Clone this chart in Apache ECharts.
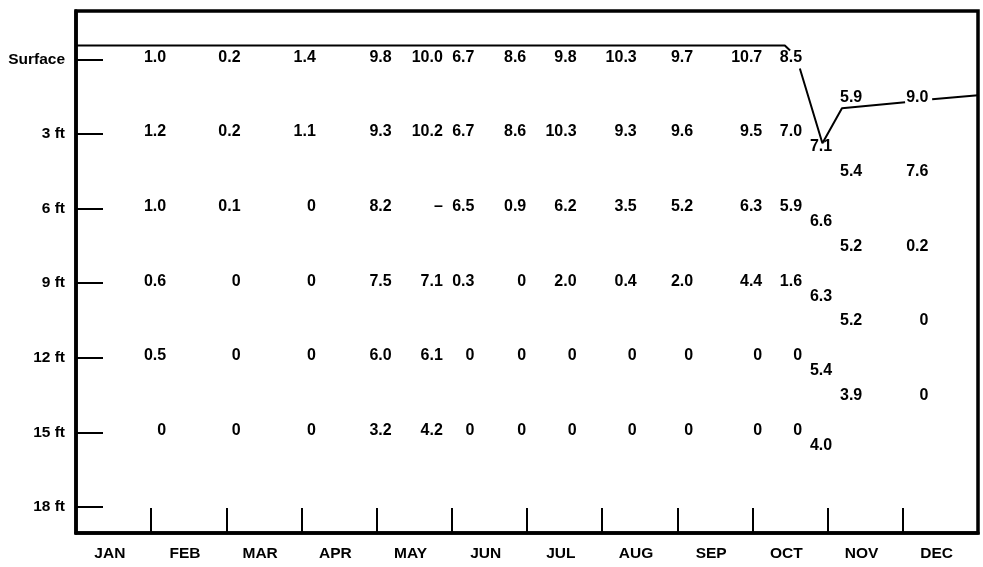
<!DOCTYPE html>
<html>
<head>
<meta charset="utf-8">
<script src="https://cdn.jsdelivr.net/npm/echarts@6/dist/echarts.min.js"></script>
<style>
html,body{margin:0;padding:0;background:#fff;}
#main{width:983px;height:567px;}
</style>
</head>
<body>
<div id="main"></div>
<script>
var monthNames = ['JAN','FEB','MAR','APR','MAY','JUN','JUL','AUG','SEP','OCT','NOV','DEC'];
var depthTicks = [0, 3, 6, 9, 12, 15, 18];
var depthNames = ['Surface','3 ft','6 ft','9 ft','12 ft','15 ft','18 ft'];

// sampling positions (months from 1 Jan), main run of samples
var sampleMonth = [1.2, 2.19, 3.19, 4.2, 4.88, 5.3, 5.99, 6.66, 7.46, 8.21, 9.13, 9.66];
var rowDepth = [0, 3, 6, 9, 12, 15];
var surfaceVals = ['1.0','0.2','1.4','9.8','10.0','6.7','8.6','9.8','10.3','9.7','10.7','8.5'];
var ft3Vals     = ['1.2','0.2','1.1','9.3','10.2','6.7','8.6','10.3','9.3','9.6','9.5','7.0'];
var ft6Vals     = ['1.0','0.1','0','8.2','\u2013','6.5','0.9','6.2','3.5','5.2','6.3','5.9'];
var ft9Vals     = ['0.6','0','0','7.5','7.1','0.3','0','2.0','0.4','2.0','4.4','1.6'];
var ft12Vals    = ['0.5','0','0','6.0','6.1','0','0','0','0','0','0','0'];
var ft15Vals    = ['0','0','0','3.2','4.2','0','0','0','0','0','0','0'];

// late season samples, depths shifted with the water level
var lateMonth = [10.06, 10.46, 11.34];
var lateDepth = [
    [3.6, 6.6, 9.6, 12.6, 15.6],
    [1.6, 4.6, 7.6, 10.6, 13.6],
    [1.6, 4.6, 7.6, 10.6, 13.6]
];
var lateVals = [
    ['7.1','6.6','6.3','5.4','4.0'],
    ['5.9','5.4','5.2','5.2','3.9'],
    ['9.0','7.6','0.2','0','0']
];

// surface level line (null = break)
var levelMonth = [0, 9.43, 9.5, null, 9.63, 9.93, 10.19, 11.03, null, 11.39, 12];
var levelDepth = [-0.56, -0.56, -0.36, null, 0.36, 3.37, 1.96, 1.72, null, 1.6, 1.44];

var rows = [surfaceVals, ft3Vals, ft6Vals, ft9Vals, ft12Vals, ft15Vals];
var labelData = [];
rows.forEach(function (vals, r) {
    vals.forEach(function (v, i) {
        labelData.push([sampleMonth[i], rowDepth[r], v]);
    });
});
lateVals.forEach(function (vals, c) {
    vals.forEach(function (v, k) {
        labelData.push([lateMonth[c], lateDepth[c][k], v]);
    });
});

var levelData = levelMonth.map(function (m, i) {
    if (m === null) return ['-', '-'];
    return [m, levelDepth[i]];
});

var font = "'Liberation Sans', Arial, sans-serif";

var option = {
    animation: false,
    backgroundColor: '#fff',
    grid: {
        left: 76, right: 5, top: 11, bottom: 34,
        show: true, borderColor: '#000', borderWidth: 3.5
    },
    xAxis: {
        type: 'value', min: 0, max: 12,
        axisLine: {show: true, onZero: false, lineStyle: {color: '#000', width: 3.5}},
        axisTick: {
            show: true, inside: true, length: 25,
            customValues: [1,2,3,4,5,6,7,8,9,10,11],
            lineStyle: {color: '#000', width: 2}
        },
        axisLabel: {
            customValues: monthNames.map(function (m, i) { return i + 0.45; }),
            formatter: function (v) { return monthNames[Math.floor(v)]; },
            color: '#000', fontFamily: font, fontWeight: 'bold', fontSize: 15.5, margin: 13
        },
        splitLine: {show: false}
    },
    yAxis: {
        type: 'value', inverse: true, min: -1.95, max: 19.05,
        axisLine: {show: true, onZero: false, lineStyle: {color: '#000', width: 3.5}},
        axisTick: {
            show: true, inside: true, length: 27,
            customValues: depthTicks,
            lineStyle: {color: '#000', width: 2}
        },
        axisLabel: {
            customValues: depthTicks,
            formatter: function (v) { return depthNames[depthTicks.indexOf(v)]; },
            color: '#000', fontFamily: font, fontWeight: 'bold', fontSize: 15.5, margin: 11
        },
        splitLine: {show: false}
    },
    series: [
        {
            type: 'line',
            data: levelData,
            symbol: 'none',
            connectNulls: false,
            lineStyle: {color: '#000', width: 2},
            z: 3
        },
        {
            type: 'scatter',
            data: labelData,
            symbolSize: 0,
            itemStyle: {opacity: 1, color: '#000'},
            label: {
                show: true, position: 'left', distance: 0, offset: [0, -2],
                formatter: function (p) { return p.data[2]; },
                color: '#000', fontFamily: font, fontWeight: 'bold', fontSize: 16
            },
            z: 4
        }
    ]
};

var chart = echarts.init(document.getElementById('main'));
chart.setOption(option);
</script>
</body>
</html>
